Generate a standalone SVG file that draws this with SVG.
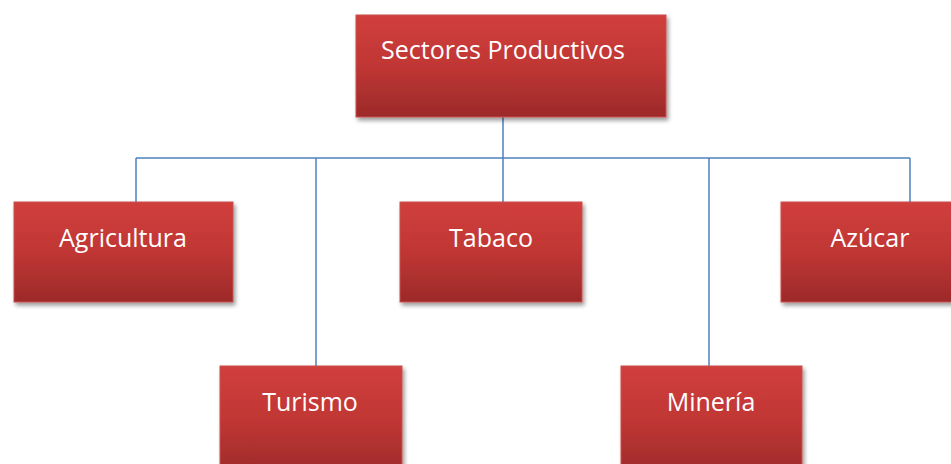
<svg xmlns="http://www.w3.org/2000/svg" width="951" height="464" viewBox="0 0 951 464">
<defs>
<linearGradient id="g" x1="0" y1="0" x2="0" y2="1">
<stop offset="0" stop-color="#d03f3c"/>
<stop offset="0.5" stop-color="#c03634"/>
<stop offset="1" stop-color="#9c2a2a"/>
</linearGradient>
<filter id="sh" x="-10%" y="-10%" width="130%" height="130%">
<feGaussianBlur in="SourceAlpha" stdDeviation="2"/>
<feOffset dx="2" dy="3"/>
<feComponentTransfer><feFuncA type="linear" slope="0.4"/></feComponentTransfer>
<feMerge><feMergeNode/><feMergeNode in="SourceGraphic"/></feMerge>
</filter>
</defs>
<style>
.box{fill:url(#g);stroke:#c8504d;stroke-width:1;filter:url(#sh)}
.lbl{fill:#ffffff;font-family:"Open Sans","Liberation Sans",sans-serif;font-size:25px;text-anchor:middle}
.c{fill:none;stroke:#4f81bd;stroke-width:1.5}
</style>
<rect width="951" height="464" fill="#ffffff"/>
<g id="connectors">
<path class="c" d="M503 117V158M136 158H910M136 158V202M316 158V366M503 158V202M709 158V366M910 158V202"/>
</g>
<g id="sectores">
<rect class="box" x="356" y="15" width="310" height="102"/>
<text class="lbl" x="503" y="59">Sectores Productivos</text>
</g>
<g id="agricultura">
<rect class="box" x="14" y="202" width="219" height="100"/>
<text class="lbl" x="123" y="247">Agricultura</text>
</g>
<g id="tabaco">
<rect class="box" x="400" y="202" width="182" height="100"/>
<text class="lbl" x="491" y="247">Tabaco</text>
</g>
<g id="azucar">
<rect class="box" x="781" y="202" width="180" height="100"/>
<text class="lbl" x="870" y="247">Azúcar</text>
</g>
<g id="turismo">
<rect class="box" x="220" y="366" width="182" height="110"/>
<text class="lbl" x="310" y="411">Turismo</text>
</g>
<g id="mineria">
<rect class="box" x="621" y="366" width="181" height="110"/>
<text class="lbl" x="711" y="411">Minería</text>
</g>
</svg>
